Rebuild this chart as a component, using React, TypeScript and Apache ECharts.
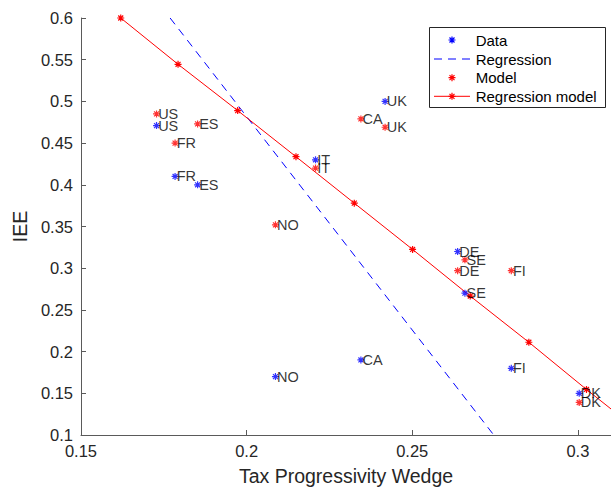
import React, { useEffect, useRef } from 'react';
import * as echarts from 'echarts';

// ---- data ----
const countries = ['US', 'FR', 'ES', 'IT', 'NO', 'CA', 'UK', 'DE', 'SE', 'FI', 'DK'];
const taxWedge = [0.1728, 0.1784, 0.1852, 0.2208, 0.2087, 0.2345, 0.2418, 0.2637, 0.2659, 0.2799, 0.3004];
const ieeData = [0.471, 0.41, 0.40, 0.43, 0.17, 0.19, 0.50, 0.32, 0.27, 0.18, 0.15];
const ieeModel = [0.485, 0.45, 0.473, 0.42, 0.352, 0.479, 0.469, 0.297, 0.31, 0.297, 0.139];

const regressionX = [0.1769, 0.2746];
const regressionY = [0.6, 0.1];

const regModelX = [0.162, 0.1793, 0.1973, 0.2149, 0.2325, 0.2501, 0.2675, 0.2852, 0.3026, 0.3202];
const regModelY = [0.6, 0.5445, 0.489, 0.4337, 0.378, 0.3225, 0.2666, 0.2112, 0.1546, 0.099];

const xTickLabels = ['0.15', '0.2', '0.25', '0.3'];
const yTickLabels = ['0.1', '0.15', '0.2', '0.25', '0.3', '0.35', '0.4', '0.45', '0.5', '0.55', '0.6'];

const legendNames = ['Data', 'Regression', 'Model', 'Regression model'];

const FONT = '"Liberation Sans", Arial, Helvetica, sans-serif';
const TEXT = '#262626';
const AXIS = '#5a5a5a';
const STAR = 'path://M0 5H10M5 0V10M1.46 1.46L8.54 8.54M8.54 1.46L1.46 8.54';
const STAR_D = 'M-3.5 0H3.5M0 -3.5V3.5M-2.5 -2.5L2.5 2.5M2.5 -2.5L-2.5 2.5';

let registered = false;
function ensureShape() {
  if (registered) return;
  echarts.graphic.registerShape('asterisk', echarts.graphic.extendPath(STAR_D, {}) as any);
  registered = true;
}

function findLabel(list: string[], v: number) {
  const f = list.find((l) => Math.abs(parseFloat(l) - v) < 1e-6);
  return f === undefined ? '' : f;
}

export default function App() {
  const ref = useRef<HTMLDivElement>(null);
  useEffect(() => {
    if (!ref.current) return;
    ensureShape();
    const chart = echarts.init(ref.current, undefined, { renderer: 'svg' });

    const labelStyle = {
      show: true,
      position: 'right' as const,
      distance: -2.5,
      color: '#000',
      fontSize: 14.5,
      fontFamily: FONT,
      formatter: (p: any) => p.name,
    };

    const legendTop = [40, 59, 77.7, 96.3];
    const lx0 = 434, lx1 = 470, lcx = 452, ltx = 475.7;
    const legendGraphics: any[] = [
      {
        type: 'rect',
        shape: { x: 429.5, y: 27.5, width: 176, height: 80 },
        style: { fill: '#fff', stroke: TEXT, lineWidth: 1 },
        z: 100,
      },
    ];
    legendNames.forEach((name, i) => {
      const y = legendTop[i];
      if (i === 1) {
        legendGraphics.push({
          type: 'line',
          shape: { x1: lx0, y1: y, x2: lx1, y2: y },
          style: { stroke: '#0000ff', lineWidth: 1, lineDash: [8, 6] },
          z: 101,
        });
      }
      if (i === 3) {
        legendGraphics.push({
          type: 'line',
          shape: { x1: lx0, y1: y, x2: lx1, y2: y },
          style: { stroke: '#ff0000', lineWidth: 1 },
          z: 101,
        });
      }
      if (i !== 1) {
        legendGraphics.push({
          type: 'asterisk',
          x: lcx,
          y: y,
          style: { stroke: i === 0 ? '#0000ff' : '#ff0000', fill: 'none', lineWidth: 1.2 },
          z: 102,
        });
      }
      legendGraphics.push({
        type: 'text',
        x: ltx,
        y: y,
        style: { text: name, fill: '#000', font: `15px ${FONT}`, textVerticalAlign: 'middle', textAlign: 'left' },
        z: 102,
      });
    });

    chart.setOption({
      animation: false,
      grid: { left: 81, top: 18, width: 534.4, height: 421.3 },
      xAxis: {
        type: 'value',
        min: 0.15,
        max: 0.31,
        interval: 0.05,
        name: 'Tax Progressivity Wedge',
        nameLocation: 'middle',
        nameGap: 31,
        nameTextStyle: { color: TEXT, fontSize: 19.5, fontFamily: FONT },
        axisLine: { show: true, lineStyle: { color: AXIS, width: 1 } },
        axisTick: { show: true, inside: true, length: 5, lineStyle: { color: AXIS } },
        axisLabel: {
          color: TEXT,
          fontSize: 16.5,
          fontFamily: FONT,
          margin: 7,
          showMaxLabel: false,
          formatter: (v: number) => findLabel(xTickLabels, v),
        },
        splitLine: { show: false },
      },
      yAxis: {
        type: 'value',
        min: 0.1,
        max: 0.6,
        interval: 0.05,
        name: 'IEE',
        nameLocation: 'middle',
        nameGap: 43,
        nameTextStyle: { color: TEXT, fontSize: 19.5, fontFamily: FONT },
        axisLine: { show: true, lineStyle: { color: AXIS, width: 1 } },
        axisTick: { show: true, inside: true, length: 5, lineStyle: { color: AXIS } },
        axisLabel: {
          color: TEXT,
          fontSize: 16.5,
          fontFamily: FONT,
          margin: 8,
          formatter: (v: number) => findLabel(yTickLabels, v),
        },
        splitLine: { show: false },
      },
      series: [
        {
          name: 'Regression',
          type: 'line',
          data: regressionX.map((x, i) => [x, regressionY[i]]),
          symbol: 'none',
          lineStyle: { color: '#0000ff', width: 1, type: [8, 6] },
          itemStyle: { color: '#0000ff' },
          clip: true,
          z: 2,
        },
        {
          name: 'Regression model',
          type: 'line',
          data: regModelX.map((x, i) => [x, regModelY[i]]),
          symbol: STAR,
          symbolSize: 7,
          showAllSymbol: true,
          lineStyle: { color: '#ff0000', width: 1 },
          itemStyle: { color: '#ff0000', borderColor: '#ff0000', borderWidth: 1.2 },
          clip: true,
          z: 3,
        },
        {
          name: 'Data',
          type: 'scatter',
          data: countries.map((c, i) => ({ name: c, value: [taxWedge[i], ieeData[i]] })),
          symbol: STAR,
          symbolSize: 7,
          itemStyle: { color: '#0000ff', borderColor: '#0000ff', borderWidth: 1.2 },
          label: labelStyle,
          z: 4,
        },
        {
          name: 'Model',
          type: 'scatter',
          data: countries.map((c, i) => ({ name: c, value: [taxWedge[i], ieeModel[i]] })),
          symbol: STAR,
          symbolSize: 7,
          itemStyle: { color: '#ff0000', borderColor: '#ff0000', borderWidth: 1.2 },
          label: labelStyle,
          z: 4,
        },
      ],
      graphic: legendGraphics,
    });
    return () => chart.dispose();
  }, []);
  return (
    <div
      ref={ref}
      style={{ position: 'fixed', left: 0, top: 0, width: 611, height: 491, background: '#fff' }}
    />
  );
}
